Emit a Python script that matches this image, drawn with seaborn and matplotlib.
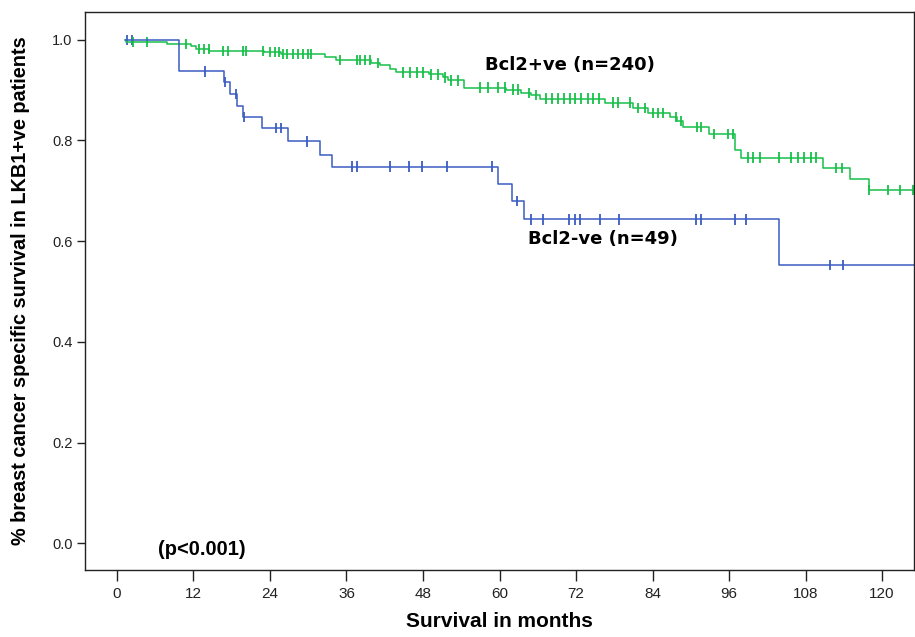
import numpy as np
import pandas as pd
import matplotlib
matplotlib.use("Agg")
import matplotlib.pyplot as plt
import seaborn as sns
from matplotlib import font_manager

# Bcl2-ve (n=49): event times (months), survival after each event, censored times
neg_start = 1.2
neg_event_months = [9.7, 16.8, 17.8, 18.9, 19.8, 22.8, 26.9, 31.8, 33.8, 59.8, 61.9, 63.9, 103.9]
neg_survival = [0.937, 0.916, 0.892, 0.869, 0.846, 0.824, 0.798, 0.772, 0.748, 0.714, 0.680, 0.643, 0.552]
neg_censored = [1.6, 2.4, 13.8, 17.0, 18.7, 19.9, 24.9, 25.8, 29.8, 36.9, 37.7, 42.8, 45.8, 47.9,
                51.8, 58.9, 62.8, 64.9, 66.8, 70.9, 71.8, 72.6, 75.7, 78.7, 90.8, 91.6, 96.9, 98.7,
                111.8, 113.8]

# Bcl2+ve (n=240)
pos_start = 1.2
pos_event_months = [1.5, 7.8, 11.7, 12.4, 14.5, 23.0, 25.8, 32.6, 34.4, 39.9, 41.2, 42.8, 43.8,
                    49.0, 51.2, 52.0, 54.5, 61.0, 63.4, 65.0, 66.3, 76.5, 80.9, 83.3, 86.7, 87.9,
                    88.8, 92.8, 96.9, 97.9, 110.8, 114.9, 117.9]
pos_survival = [0.996, 0.991, 0.987, 0.982, 0.978, 0.975, 0.971, 0.965, 0.959, 0.954, 0.949, 0.942,
                0.935, 0.931, 0.925, 0.919, 0.905, 0.901, 0.894, 0.890, 0.883, 0.875, 0.865, 0.855,
                0.846, 0.839, 0.826, 0.813, 0.780, 0.766, 0.745, 0.723, 0.702]
pos_censored = [2.6, 4.7, 10.9, 12.8, 13.6, 14.4, 16.7, 17.4, 19.8, 20.3, 22.9, 24.0, 24.8, 25.5,
                26.1, 26.6, 27.6, 28.4, 29.2, 30.0, 30.5, 35.0, 37.6, 38.1, 38.9, 39.7, 41.0, 44.9,
                45.9, 47.0, 48.0, 49.3, 50.3, 51.4, 52.4, 53.5, 56.9, 58.2, 59.8, 60.8, 62.1, 62.9,
                64.7, 65.8, 67.3, 68.3, 69.2, 70.1, 71.0, 71.9, 72.8, 73.8, 74.7, 75.6, 77.8, 78.6,
                80.4, 81.7, 82.8, 84.0, 84.8, 85.6, 87.7, 88.5, 90.9, 91.6, 93.7, 95.8, 96.6, 98.9,
                99.8, 100.8, 103.8, 105.7, 106.8, 107.8, 108.9, 109.7, 112.8, 113.7, 117.9, 120.9,
                122.8, 124.8]

end_month = 126
groups = ["Bcl2-ve", "Bcl2+ve"]
colors = {"Bcl2-ve": "#3a5cc2", "Bcl2+ve": "#17c04a"}


def step_frame(start, times, surv, group):
    x = [start] + list(times) + [end_month]
    y = [1.0] + list(surv) + [surv[-1]]
    return pd.DataFrame({"month": x, "surv": y, "group": group})


def censor_frame(times, surv, cens, group):
    idx = np.searchsorted(times, cens, side="right")
    levels = np.concatenate([[1.0], surv])[idx]
    return pd.DataFrame({"month": cens, "surv": levels, "group": group})


names = {f.name for f in font_manager.fontManager.ttflist}
narrow = "Liberation Sans Narrow" if "Liberation Sans Narrow" in names else "Liberation Sans"

sns.set_style("ticks")
plt.rcParams["font.family"] = ["Liberation Sans", "DejaVu Sans"]
plt.rcParams["text.color"] = "black"
plt.rcParams["axes.labelcolor"] = "black"

curves = pd.concat([
    step_frame(neg_start, neg_event_months, neg_survival, "Bcl2-ve"),
    step_frame(pos_start, pos_event_months, pos_survival, "Bcl2+ve"),
], ignore_index=True)
marks = pd.concat([
    censor_frame(neg_event_months, neg_survival, neg_censored, "Bcl2-ve"),
    censor_frame(pos_event_months, pos_survival, pos_censored, "Bcl2+ve"),
], ignore_index=True)

fig = plt.figure(figsize=(9.15, 6.37), dpi=100)
ax = fig.add_axes([85 / 915, 1 - 570 / 637, 829 / 915, 558 / 637])

sns.lineplot(data=curves, x="month", y="surv", hue="group", hue_order=groups[::-1],
             palette=colors, estimator=None, sort=False, drawstyle="steps-post",
             linewidth=1.1, legend=False, ax=ax)
sns.scatterplot(data=marks, x="month", y="surv", hue="group", hue_order=groups[::-1],
                palette=colors, marker="|", s=55, linewidth=1.3, legend=False, ax=ax)

ax.set_xlim(-5, 125)
ax.set_ylim(-0.053, 1.055)
ax.set_xticks(np.arange(0, 121, 12))
ax.set_yticks(np.arange(0, 1.01, 0.2))
ax.set_yticklabels([f"{v:.1f}" for v in np.arange(0, 1.01, 0.2)], fontsize=10.5, color="#222222")
ax.set_xticklabels([str(v) for v in range(0, 121, 12)], fontsize=11, family=narrow, color="#222222")
ax.tick_params(axis="x", length=8, width=1, color="#222222", pad=4)
ax.tick_params(axis="y", length=6, width=1, color="#222222", pad=3)
for sp in ax.spines.values():
    sp.set_visible(True)
    sp.set_linewidth(1.0)
    sp.set_color("#222222")

ax.set_xlabel("Survival in months", fontsize=15, fontweight="bold", family=narrow, labelpad=8)
ax.set_ylabel("% breast cancer specific survival in LKB1+ve patients", fontsize=14.3,
              fontweight="bold", family=narrow, labelpad=16)

ax.text(57.7, 0.949, "Bcl2+ve (n=240)", fontsize=13, fontweight="bold", family="DejaVu Sans",
        va="center", ha="left")
ax.text(64.4, 0.604, "Bcl2-ve (n=49)", fontsize=13, fontweight="bold", family="DejaVu Sans",
        va="center", ha="left")
ax.text(6.4, -0.012, "(p<0.001)", fontsize=14.5, fontweight="bold", family=narrow, va="center", ha="left")

fig.savefig("out.png", dpi=100)
